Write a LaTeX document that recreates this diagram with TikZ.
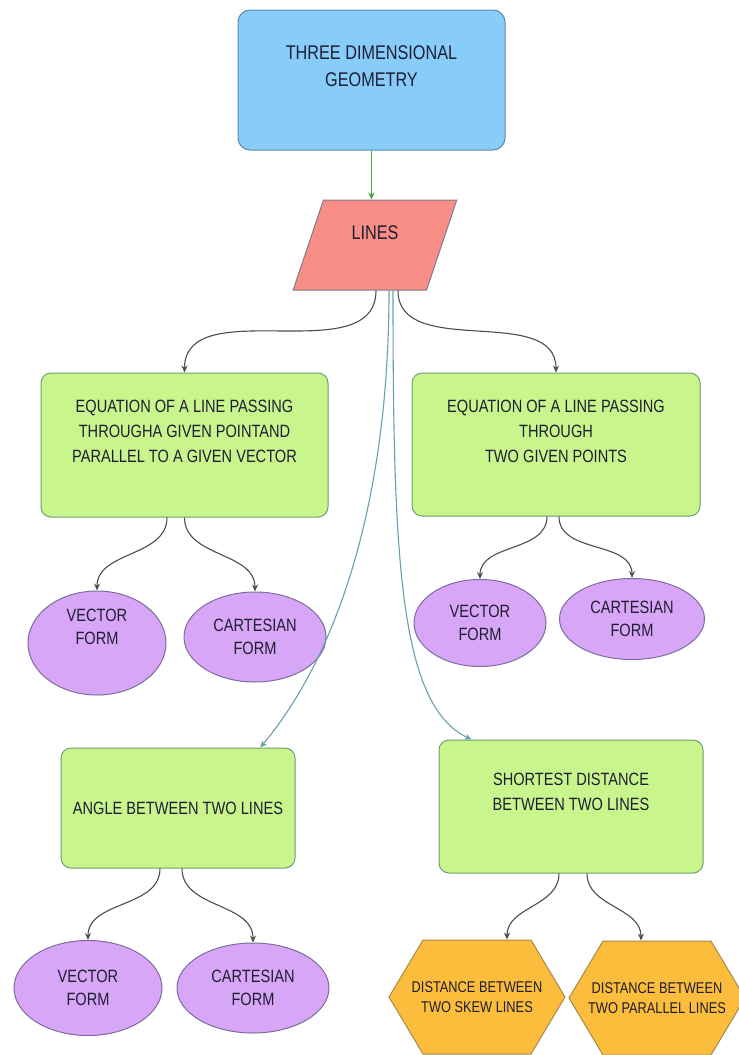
\documentclass[tikz,border=0pt]{standalone}
\usepackage{fontspec}
\setmainfont{Liberation Sans}[FakeStretch=0.82]
\usetikzlibrary{arrows.meta,calc,shapes.geometric}
\definecolor{skyfill}{HTML}{88CDFA}
\definecolor{skyline}{HTML}{5E8AA8}
\definecolor{salmon}{HTML}{F88F87}
\definecolor{salmonline}{HTML}{7E7A92}
\definecolor{limefill}{HTML}{C8F58C}
\definecolor{limeline}{HTML}{6F9F74}
\definecolor{lilac}{HTML}{D8A6F6}
\definecolor{lilacline}{HTML}{7C6C9E}
\definecolor{amber}{HTML}{FBBD3B}
\definecolor{amberline}{HTML}{A58A4C}
\definecolor{inktext}{HTML}{1E1E32}
\definecolor{grnarrow}{HTML}{3DA33D}
\definecolor{tealarrow}{HTML}{6A9FB0}
\definecolor{darkarrow}{HTML}{4D4D4D}

\begin{document}
\begin{tikzpicture}[
    x=1pt, y=1pt,
    font=\rmfamily,
    >={Stealth[length=7pt,width=6pt]},
    line width=1pt,
    bigtxt/.style   = {font=\rmfamily\fontsize{19.8}{27}\selectfont,
                       text=inktext, align=center, inner sep=0pt},
    midtxt/.style   = {font=\rmfamily\fontsize{17.8}{25}\selectfont,
                       text=inktext, align=center, inner sep=0pt},
    ovaltxt/.style  = {font=\rmfamily\fontsize{17.8}{23}\selectfont,
                       text=inktext, align=center},
    hextxt/.style   = {font=\rmfamily\fontsize{15.6}{20.5}\selectfont,
                       text=inktext, align=center},
    headbox/.style  = {draw=skyline, fill=skyfill, rounded corners=12pt,
                       minimum width=267pt, minimum height=140pt, inner sep=0pt},
    topicbox/.style = {draw=salmonline, fill=salmon, trapezium,
                       trapezium left angle=70, trapezium right angle=110,
                       trapezium stretches=true, minimum width=164pt,
                       minimum height=90pt, inner sep=2pt, bigtxt},
    subbox/.style   = {draw=limeline, fill=limefill, rounded corners=10pt,
                       inner sep=0pt, midtxt},
    formoval/.style = {draw=lilacline, fill=lilac, ellipse, inner sep=0pt,
                       ovaltxt},
    hexedge/.style  = {draw=amberline, fill=amber},
    distbox/.style  = {minimum width=176pt, minimum height=114pt,
                       inner sep=0pt, hextxt},
    tree/.style     = {draw=darkarrow, line width=1.1pt, ->},
    tealsig/.style  = {draw=tealarrow, line width=1.1pt, ->},
  ]

  \useasboundingbox (0,0) rectangle (739,-1055);
  \fill[white] (0,0) rectangle (739,-1055);

  % ===================================================================
  % Root and topic
  % ===================================================================
  \node[headbox, label={[bigtxt, yshift=14pt]center:THREE DIMENSIONAL\\GEOMETRY}]
    (top) at (371.5,-80) {};

  \node[topicbox, text depth=24pt] (lines) at (375,-245) {LINES};

  \draw[->, draw=grnarrow] (top.south) -- (top.south |- lines.north);

  % ===================================================================
  % Equations of a line (upper row)
  % ===================================================================
  \node[subbox, minimum width=287pt, minimum height=144pt,
        label={[midtxt, yshift=14pt]center:EQUATION OF A LINE PASSING\\THROUGHA GIVEN POINTAND\\PARALLEL TO A GIVEN VECTOR}]
    (eq1) at (184.5,-445) {};
  \node[subbox, minimum width=288pt, minimum height=143pt,
        label={[midtxt, yshift=13.5pt]center:EQUATION OF A LINE PASSING\\THROUGH\\TWO GIVEN POINTS}]
    (eq2) at (556,-444.5) {};

  \node[formoval, minimum width=138pt, minimum height=104pt,
        label={[ovaltxt, yshift=16pt]center:VECTOR\\FORM}]
    (vec1) at (97,-643) {};
  \node[formoval, minimum width=142pt, minimum height=90pt]
    (cart1) at (255,-637) {CARTESIAN\\FORM};
  \node[formoval, minimum width=132pt, minimum height=87pt]
    (vec2) at (480,-623) {VECTOR\\FORM};
  \node[formoval, minimum width=145pt, minimum height=81pt]
    (cart2) at (632,-619) {CARTESIAN\\FORM};

  % ===================================================================
  % Angle and shortest distance (lower row)
  % ===================================================================
  \node[subbox, minimum width=234pt, minimum height=120pt]
    (angle) at (178,-808) {ANGLE BETWEEN TWO LINES};
  \node[subbox, minimum width=264pt, minimum height=133pt,
        label={[midtxt, yshift=15pt]center:SHORTEST DISTANCE\\BETWEEN TWO LINES}]
    (short) at (571,-806.5) {};

  \node[formoval, minimum width=148pt, minimum height=95pt]
    (vec3) at (88,-988) {VECTOR\\FORM};
  \node[formoval, minimum width=152pt, minimum height=90pt]
    (cart3) at (253,-988) {CARTESIAN\\FORM};

  % ----- hexagons: outline first, text node on top -----
  \coordinate (skewc) at (477,-997);
  \coordinate (parac) at (657,-998);
  \foreach \c in {skewc,parac}
    \draw[hexedge] ($(\c)+(-88,0)$) -- ++(34,57) -- ++(108,0)
      -- ++(34,-57) -- ++(-34,-57) -- ++(-108,0) -- cycle;
  \node[distbox] (skew) at (skewc) {DISTANCE BETWEEN\\TWO SKEW LINES};
  \node[distbox] (para) at (parac) {DISTANCE BETWEEN\\TWO PARALLEL LINES};

  % ----- connectors from LINES -----
  \draw[tree] ([xshift=1pt]lines.south) to[out=-90,in=90] (eq1.north);
  \draw[tree] ([xshift=23pt]lines.south) to[out=-90,in=90] (eq2.north);
  \draw[tealsig] ([xshift=14pt]lines.south)
    to[out=-90,in=50,out looseness=1.2,in looseness=0.6]
    ($(angle.north)!0.7!(angle.north east)$);
  \draw[tealsig] ([xshift=18pt]lines.south)
    to[out=-90,in=155,out looseness=1.5,in looseness=0.45]
    ($(short.north west)!0.125!(short.north east)$);

  % ----- connectors to the forms -----
  \draw[tree] ([xshift=-17.5pt]eq1.south) to[out=-90,in=90] (vec1.north);
  \draw[tree] (eq1.south) to[out=-90,in=90] (cart1.north);
  \draw[tree] ([xshift=-9pt]eq2.south) to[out=-90,in=90] (vec2.north);
  \draw[tree] ([xshift=3pt]eq2.south) to[out=-90,in=90] (cart2.north);
  \draw[tree] ([xshift=-18pt]angle.south) to[out=-90,in=90] (vec3.north);
  \draw[tree] ([xshift=4pt]angle.south) to[out=-90,in=90] (cart3.north);
  \draw[tree] ([xshift=-12pt]short.south) to[out=-90,in=90] ([xshift=30pt]skew.north);
  \draw[tree] ([xshift=16pt]short.south) to[out=-90,in=90] ([xshift=-16pt]para.north);

\end{tikzpicture}
\end{document}
